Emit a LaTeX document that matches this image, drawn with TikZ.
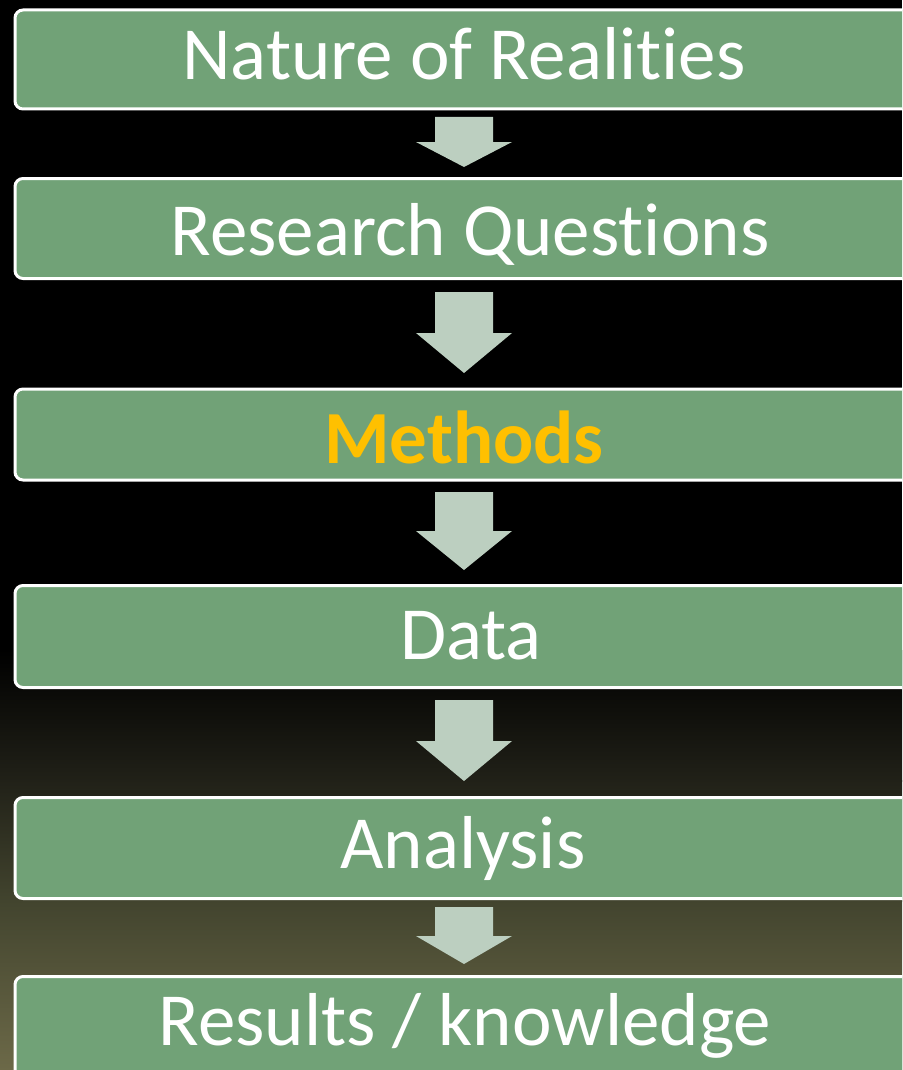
\documentclass[tikz,border=0pt]{standalone}
\usepackage{fontspec}
\setmainfont[Ligatures=NoCommon,RawFeature=-liga]{Carlito}
\definecolor{boxgreen}{RGB}{113,162,119}
\definecolor{arrowc}{RGB}{188,207,192}
\definecolor{gold}{RGB}{255,192,0}
\definecolor{bgA}{RGB}{33,33,24}
\definecolor{bgB}{RGB}{66,68,46}
\definecolor{bgC}{RGB}{108,105,72}
\newcommand{\flowarrow}[3]{%
  \fill[arrowc] (435,#1) -- (493,#1) -- (493,#2) -- (512,#2) -- (464,#3) -- (416,#2) -- (435,#2) -- cycle;}
\begin{document}
\begin{tikzpicture}[x=1pt,y=-1pt,
  stepbox/.style={draw=white, line width=3pt, fill=boxgreen, rounded corners=8pt,
    minimum width=906pt, minimum height=100pt, anchor=north west, inner sep=0pt},
  lbl/.style={text=white, font=\fontsize{75}{80}\selectfont, anchor=base, inner sep=0pt}]
\useasboundingbox (0,0) rectangle (902,1070);
\clip (0,0) rectangle (902,1070);
% background
\fill[black] (0,0) rectangle (902,651);
\shade[top color=black, bottom color=bgA] (0,650) rectangle (902,781);
\shade[top color=bgA, bottom color=bgB] (0,780) rectangle (902,901);
\shade[top color=bgB, bottom color=bgC] (0,900) rectangle (902,1070);
% boxes
\node[stepbox, minimum height=99pt] (b1) at (13.5,8.5) {};
\node[stepbox, minimum height=100pt] (b2) at (13.5,177) {};
\node[stepbox, minimum height=91pt] (b3) at (13.5,387.5) {};
\node[stepbox, minimum height=102pt] (b4) at (13.5,584) {};
\node[stepbox, minimum height=101pt] (b5) at (13.5,796) {};
\node[stepbox, minimum height=102pt] (b6) at (13.5,975) {};
% labels
\node[lbl] (t1) at (464,80) {Nature of Realities};
\node[lbl] (t2) at (470,255) {Research Questions};
\node[lbl, text=gold, font=\fontsize{75}{80}\selectfont\bfseries] (t3) at (464,463) {Methods};
\node[lbl] (t4) at (471,659) {Data};
\node[lbl] (t5) at (463,868) {Analysis};
\node[lbl] (t6) at (465,1045) {Results / knowledge};
% arrows
\flowarrow{117}{142}{167}
\flowarrow{292}{333}{373}
\flowarrow{492}{531}{570}
\flowarrow{700}{741}{781}
\flowarrow{907}{936}{964}
\end{tikzpicture}
\end{document}
